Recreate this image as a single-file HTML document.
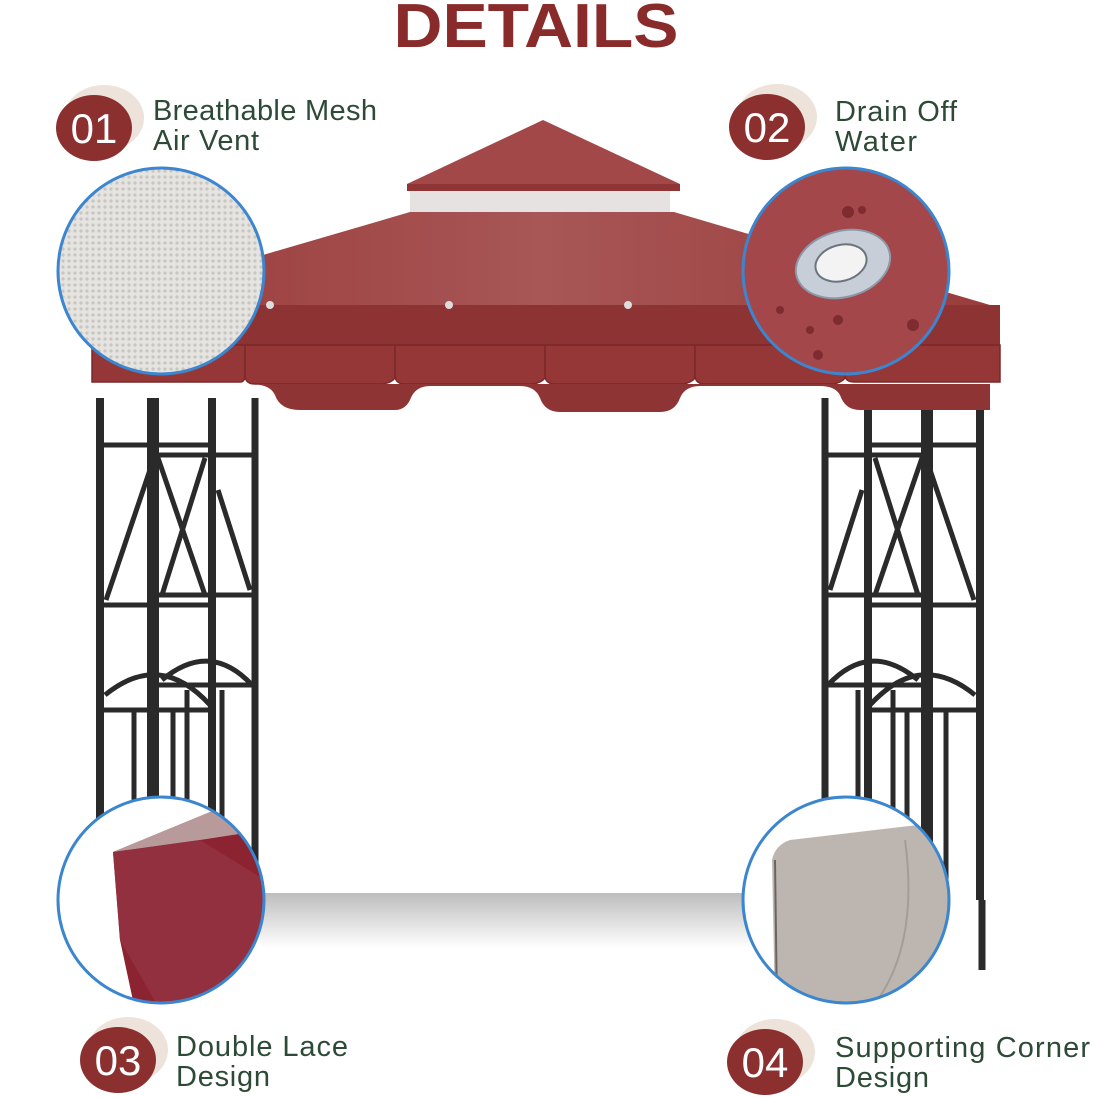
<!DOCTYPE html>
<html><head><meta charset="utf-8"><style>
html,body{margin:0;padding:0;background:#fff}
svg{display:block}
text{font-family:"Liberation Sans",sans-serif}
</style></head><body>
<svg width="1095" height="1097" viewBox="0 0 1095 1097" xmlns="http://www.w3.org/2000/svg">
<defs>
<pattern id="mesh" width="6" height="6" patternUnits="userSpaceOnUse">
<rect width="6" height="6" fill="#e6e4e0"/><circle cx="3" cy="3" r="1.6" fill="#c9c6c1"/>
</pattern>
<linearGradient id="shadow" x1="0" y1="0" x2="0" y2="1">
<stop offset="0" stop-color="#bdbdbd"/><stop offset="1" stop-color="#fff"/>
</linearGradient>
<linearGradient id="roof" x1="0" y1="0" x2="1" y2="0">
<stop offset="0" stop-color="#9a3a3a"/><stop offset="0.5" stop-color="#a85656"/><stop offset="1" stop-color="#9a3c3c"/>
</linearGradient>
<g id="frame" stroke="#2a2a2a" fill="none">
<line x1="100" y1="398" x2="100" y2="900" stroke-width="8"/>
<line x1="153" y1="398" x2="153" y2="900" stroke-width="12"/>
<line x1="212" y1="398" x2="212" y2="900" stroke-width="8"/>
<line x1="255" y1="398" x2="255" y2="900" stroke-width="7"/>
<g stroke-width="5">
<line x1="100" y1="445" x2="212" y2="445"/><line x1="153" y1="455" x2="255" y2="455"/>
<line x1="100" y1="605" x2="212" y2="605"/><line x1="153" y1="595" x2="255" y2="595"/>
<line x1="100" y1="710" x2="212" y2="710"/><line x1="153" y1="685" x2="255" y2="685"/>
<line x1="155" y1="455" x2="106" y2="600"/><line x1="157" y1="455" x2="205" y2="595"/>
<line x1="205" y1="458" x2="162" y2="595"/><line x1="218" y1="490" x2="250" y2="590"/>
<path d="M105 695 Q160 650 210 705"/><path d="M162 680 Q210 640 252 685"/>
<line x1="134" y1="710" x2="134" y2="900"/><line x1="173" y1="710" x2="173" y2="900"/>
<line x1="187" y1="690" x2="187" y2="900"/><line x1="222" y1="690" x2="222" y2="900"/>
</g></g>
</defs>
<rect width="1095" height="1097" fill="#fff"/>
<text x="536" y="47" text-anchor="middle" font-size="62" font-weight="bold" fill="#8a2b2b" textLength="285" lengthAdjust="spacingAndGlyphs">DETAILS</text>
<rect x="260" y="893" width="570" height="55" fill="url(#shadow)"/>
<use href="#frame"/>
<use href="#frame" transform="translate(1080,0) scale(-1,1)"/>
<line x1="982" y1="900" x2="982" y2="970" stroke="#2a2a2a" stroke-width="7"/>
<polygon points="543,120 407,184 680,184" fill="#a34848"/>
<rect x="407" y="184" width="273" height="7" fill="#8f3535"/>
<rect x="410" y="191" width="260" height="22" fill="#e6e2e2"/>
<polygon points="410,212 674,212 990,305 92,305" fill="url(#roof)"/>
<rect x="92" y="305" width="908" height="42" fill="#8e3333"/>
<g fill="#963737" stroke="#7a2828" stroke-width="1.5">
<path d="M92 345 H245 V375 Q245 382 240 382 H92Z"/>
<path d="M245 345 H395 V378 Q390 384 380 384 H255 Q245 384 245 375Z"/>
<path d="M395 345 H545 V378 Q540 384 530 384 H405 Q395 384 395 375Z"/>
<path d="M545 345 H695 V378 Q690 384 680 384 H555 Q545 384 545 375Z"/>
<path d="M695 345 H845 V378 Q840 384 830 384 H705 Q695 384 695 375Z"/>
<path d="M845 345 H1000 V382 H855 Q845 382 845 375Z"/>
</g>
<g fill="#8f3434">
<path d="M100 384 H250 Q270 384 275 395 Q280 410 300 410 H395 Q405 410 410 400 Q415 386 430 386 H520 Q535 386 540 398 Q545 412 560 412 H660 Q675 412 680 398 Q685 386 700 386 H820 Q835 386 840 395 Q845 410 860 410 H990 V384Z"/>
</g>
<circle cx="270" cy="305" r="4" fill="#ddd"/><circle cx="449" cy="305" r="4" fill="#ddd"/><circle cx="628" cy="305" r="4" fill="#ddd"/>
<circle cx="161" cy="271" r="103" fill="url(#mesh)" stroke="#3b86cf" stroke-width="3"/>
<circle cx="846" cy="271" r="103" fill="#a4474a" stroke="#3b86cf" stroke-width="3"/>
<ellipse cx="843" cy="264" rx="48" ry="33" transform="rotate(-15 843 264)" fill="#c7ced8" stroke="#8c98a8" stroke-width="2"/>
<ellipse cx="841" cy="263" rx="26" ry="18" transform="rotate(-15 841 263)" fill="#f3f3f3" stroke="#6c7480" stroke-width="2"/>
<g fill="#7e2c2f"><circle cx="848" cy="212" r="6"/><circle cx="862" cy="210" r="4"/><circle cx="913" cy="325" r="6"/><circle cx="838" cy="320" r="5"/><circle cx="810" cy="330" r="4"/><circle cx="780" cy="310" r="4"/><circle cx="818" cy="355" r="5"/></g>
<clipPath id="c3"><circle cx="161" cy="900" r="103"/></clipPath>
<circle cx="161" cy="900" r="103" fill="#fff"/>
<g clip-path="url(#c3)">
<polygon points="113,852 215,810 265,800 265,1010 135,1010 120,940" fill="#8b2331"/>
<polygon points="113,852 215,810 265,800 265,830 200,840" fill="#b89a9a"/>
<polygon points="113,852 200,840 265,880 265,1010 160,1010 120,940" fill="#923040"/>
</g>
<circle cx="161" cy="900" r="103" fill="none" stroke="#3b86cf" stroke-width="3"/>
<clipPath id="c4"><circle cx="846" cy="900" r="103"/></clipPath>
<circle cx="846" cy="900" r="103" fill="#fff"/>
<g clip-path="url(#c4)">
<path d="M772 860 Q775 845 790 840 L960 820 V1010 H775Z" fill="#bdb6b0"/>
<path d="M905 840 Q920 950 870 1010" stroke="#a49d96" fill="none" stroke-width="2"/>
<line x1="775" y1="860" x2="777" y2="1010" stroke="#6a6560" stroke-width="2"/>
</g>
<circle cx="846" cy="900" r="103" fill="none" stroke="#3b86cf" stroke-width="3"/>
<g font-size="42" fill="#fff" text-anchor="middle">
<ellipse cx="104" cy="118" rx="40" ry="33" fill="#ede3da"/><ellipse cx="94" cy="128" rx="38" ry="33" fill="#8b2f2f"/><text x="94" y="143">01</text>
<ellipse cx="777" cy="117" rx="40" ry="33" fill="#ede3da"/><ellipse cx="767" cy="127" rx="38" ry="33" fill="#8b2f2f"/><text x="767" y="142">02</text>
<ellipse cx="128" cy="1050" rx="40" ry="33" fill="#ede3da"/><ellipse cx="118" cy="1060" rx="38" ry="33" fill="#8b2f2f"/><text x="118" y="1075">03</text>
<ellipse cx="775" cy="1052" rx="40" ry="33" fill="#ede3da"/><ellipse cx="765" cy="1062" rx="38" ry="33" fill="#8b2f2f"/><text x="765" y="1077">04</text>
</g>
<g font-size="29" fill="#2d4a36" lengthAdjust="spacingAndGlyphs">
<text x="153" y="120" textLength="224">Breathable Mesh</text><text x="153" y="150" textLength="106">Air Vent</text>
<text x="835" y="121" textLength="122">Drain Off</text><text x="835" y="151" textLength="82">Water</text>
<text x="176" y="1056" textLength="172">Double Lace</text><text x="176" y="1086" textLength="94">Design</text>
<text x="835" y="1057" textLength="255">Supporting Corner</text><text x="835" y="1087" textLength="94">Design</text>
</g>
</svg>
</body></html>
